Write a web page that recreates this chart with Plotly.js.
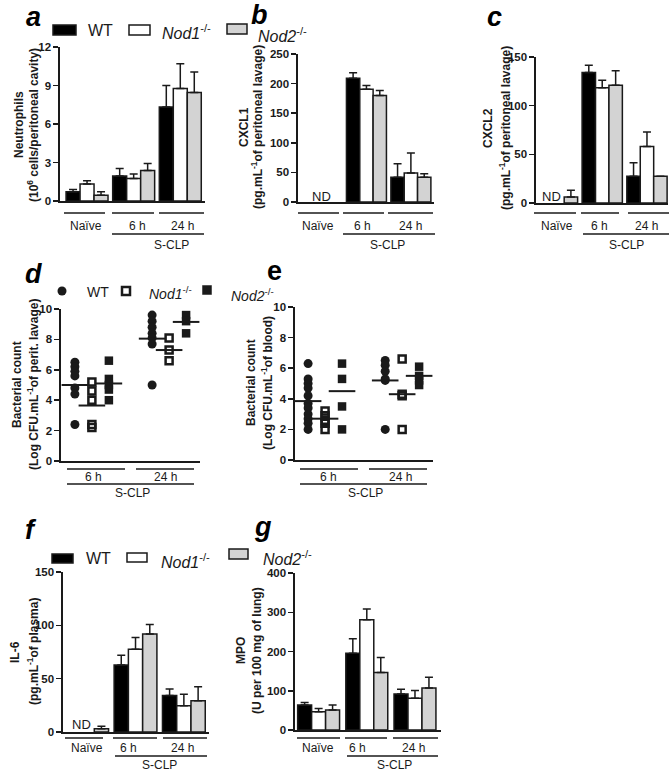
<!DOCTYPE html>
<html><head><meta charset="utf-8">
<script src="https://cdn.plot.ly/plotly-3.0.1.min.js"></script>
<style>html,body{margin:0;padding:0;background:#fff}</style>
</head><body><div id="chart" style="width:672px;height:771px"></div>
<script>
// ---------- DATA ----------
const groups = ["Naïve", "6 h", "24 h"];
const sclpGroups = ["6 h", "24 h"];
const genotypes = ["WT", "Nod1-/-", "Nod2-/-"];

// a: Neutrophils (10^6 cells/peritoneal cavity), mean and upper SEM
const neutroWT = [0.73, 1.94, 7.33],  neutroWTerr = [0.17, 0.60, 1.67];
const neutroNod1 = [1.32, 1.76, 8.76], neutroNod1err = [0.26, 0.34, 1.94];
const neutroNod2 = [0.44, 2.38, 8.45], neutroNod2err = [0.29, 0.55, 1.60];

// b: CXCL1 (pg/mL of peritoneal lavage); Naïve = ND
const cxcl1WT = [null, 209, 42],     cxcl1WTerr = [null, 9.5, 22.6];
const cxcl1Nod1 = [null, 190.5, 49], cxcl1Nod1err = [null, 6.1, 33.6];
const cxcl1Nod2 = [null, 180, 42],   cxcl1Nod2err = [null, 8.2, 5.8];

// c: CXCL2 (pg/mL of peritoneal lavage)
const cxcl2WT = [null, 134, 27.4],   cxcl2WTerr = [null, 7.4, 14];
const cxcl2Nod1 = [null, 118.5, 58], cxcl2Nod1err = [null, 7.5, 15];
const cxcl2Nod2 = [6.2, 121, 27.4],  cxcl2Nod2err = [6.8, 15, 0];

// d: Bacterial count, peritoneal lavage (log CFU/mL)
const lavWT6 = [6.5, 6.2, 5.9, 5.6, 4.8, 4.4, 2.4];
const lavWT24 = [9.6, 9.2, 8.8, 8.4, 8.1, 7.7, 5.0];
const lavNod1_6 = [5.2, 4.6, 4.0, 2.4, 2.2];
const lavNod1_24 = [8.1, 7.3, 6.6];
const lavNod2_6 = [6.6, 5.4, 5.0, 4.7, 4.0];
const lavNod2_24 = [9.6, 9.2, 8.4];
const lavMeanWT = [5.0, 8.05], lavMeanNod1 = [3.65, 7.3], lavMeanNod2 = [5.1, 9.15];

// e: Bacterial count, blood (log CFU/mL)
const bloodWT6 = [6.3, 5.3, 5.0, 4.7, 4.2, 3.7, 3.4, 3.0, 2.7, 2.4, 2.0];
const bloodWT24 = [6.5, 6.2, 5.8, 5.3, 5.2, 2.0];
const bloodNod1_6 = [3.2, 2.9, 2.6, 2.4, 2.0];
const bloodNod1_24 = [6.6, 4.3, 4.2, 2.0];
const bloodNod2_6 = [6.3, 5.3, 3.5, 2.0];
const bloodNod2_24 = [6.1, 5.5, 5.2, 4.9];
const bloodMeanWT = [3.85, 5.2], bloodMeanNod1 = [2.7, 4.3], bloodMeanNod2 = [4.5, 5.5];

// f: IL-6 (pg/mL of plasma)
const il6WT = [null, 62.8, 34.2],  il6WTerr = [null, 9.1, 6.0];
const il6Nod1 = [null, 77.5, 24.5], il6Nod1err = [null, 11, 11];
const il6Nod2 = [3.1, 91.9, 29.2], il6Nod2err = [2.2, 8.8, 13.2];

// g: MPO (U per 100 mg of lung)
const mpoWT = [63.8, 195.7, 91.9],  mpoWTerr = [6, 36.6, 11.9];
const mpoNod1 = [46.8, 280.9, 80.9], mpoNod1err = [7.7, 27.1, 19.5];
const mpoNod2 = [51, 146.4, 107.2], mpoNod2err = [12.8, 38.3, 27.3];

// ---------- STYLE / LAYOUT ----------
const W = 672, H = 771;
const FONT = "Liberation Sans, Arial, Helvetica, sans-serif";
const INK = "#1a1a1a";
const fills = ["#000000", "#ffffff", "#d3d3d3"];
const px = x => x / W, py = y => 1 - y / H;

const traces = [];
function addBars(xa, ya, vals, errs, w) {
  vals.forEach((v, i) => {
    traces.push({
      type: "bar", x: groups, y: v, xaxis: xa, yaxis: ya, name: genotypes[i],
      width: w, offset: (i - 1.5) * w,
      marker: { color: fills[i], line: { color: INK, width: 1.5 } },
      error_y: { type: "data", symmetric: false, array: errs[i], arrayminus: errs[i].map(() => 0),
                 color: INK, thickness: 1.5, width: 4 },
      showlegend: false, hoverinfo: "skip"
    });
  });
}
addBars("x", "y", [neutroWT, neutroNod1, neutroNod2], [neutroWTerr, neutroNod1err, neutroNod2err], 0.30);
addBars("x2", "y2", [cxcl1WT, cxcl1Nod1, cxcl1Nod2], [cxcl1WTerr, cxcl1Nod1err, cxcl1Nod2err], 0.30);
addBars("x3", "y3", [cxcl2WT, cxcl2Nod1, cxcl2Nod2], [cxcl2WTerr, cxcl2Nod1err, cxcl2Nod2err], 0.30);
addBars("x6", "y6", [il6WT, il6Nod1, il6Nod2], [il6WTerr, il6Nod1err, il6Nod2err], 0.295);
addBars("x7", "y7", [mpoWT, mpoNod1, mpoNod2], [mpoWTerr, mpoNod1err, mpoNod2err], 0.29);

const symbols = [
  { symbol: "circle", size: 9, color: INK, line: { width: 0 } },
  { symbol: "square-open", size: 7, color: INK, line: { width: 2.5, color: INK } },
  { symbol: "square", size: 8.5, color: INK, line: { width: 0 } }
];
function addScatter(xa, ya, sets, means) {
  sets.forEach((s, i) => {
    const xs = [], ys = [];
    s.forEach((arr, g) => arr.forEach(v => { xs.push(sclpGroups[g]); ys.push(v); }));
    traces.push({ type: "scatter", mode: "markers", x: xs, y: ys, xaxis: xa, yaxis: ya,
      offsetgroup: genotypes[i], marker: symbols[i], showlegend: false, hoverinfo: "skip", cliponaxis: false });
    traces.push({ type: "scatter", mode: "markers", x: sclpGroups, y: means[i], xaxis: xa, yaxis: ya,
      offsetgroup: genotypes[i], marker: { symbol: "line-ew", size: 19, line: { width: 2, color: INK } },
      showlegend: false, hoverinfo: "skip", cliponaxis: false });
  });
}
addScatter("x4", "y4", [[lavWT6, lavWT24], [lavNod1_6, lavNod1_24], [lavNod2_6, lavNod2_24]],
           [lavMeanWT, lavMeanNod1, lavMeanNod2]);
addScatter("x5", "y5", [[bloodWT6, bloodWT24], [bloodNod1_6, bloodNod1_24], [bloodNod2_6, bloodNod2_24]],
           [bloodMeanWT, bloodMeanNod1, bloodMeanNod2]);

const panels = [
  { k: "", xd: [60, 205], yd: [201, 47], xr: [-0.58, 2.53], yr: [0, 12], tv: [0, 3, 6, 9, 12] },
  { k: "2", xd: [298, 434], yd: [202, 54], xr: [-0.54, 2.52], yr: [0, 250], tv: [0, 50, 100, 150, 200, 250] },
  { k: "3", xd: [536, 668], yd: [203, 57], xr: [-0.48, 2.47], yr: [0, 150], tv: [0, 50, 100, 150] },
  { k: "4", xd: [61, 200], yd: [461, 309], xr: [-0.4, 1.4], yr: [0, 10], tv: [0, 2, 4, 6, 8, 10] },
  { k: "5", xd: [295, 433], yd: [460, 307], xr: [-0.39, 1.4], yr: [0, 10], tv: [0, 2, 4, 6, 8, 10] },
  { k: "6", xd: [63, 209], yd: [732, 572], xr: [-0.5, 2.52], yr: [0, 150], tv: [0, 50, 100, 150] },
  { k: "7", xd: [295, 441], yd: [730, 573], xr: [-0.49, 2.54], yr: [0, 400], tv: [0, 100, 200, 300, 400] }
];

const layout = {
  width: W, height: H, margin: { l: 0, r: 0, t: 0, b: 0 },
  paper_bgcolor: "#fff", plot_bgcolor: "rgba(0,0,0,0)",
  showlegend: false, barmode: "overlay",
  scattermode: "group", scattergap: 0.34,
  font: { family: FONT, color: INK },
  annotations: [], shapes: []
};
panels.forEach(p => {
  layout["xaxis" + p.k] = {
    domain: [px(p.xd[0]), px(p.xd[1])], range: p.xr, type: "category",
    anchor: "y" + p.k, showline: true, linecolor: INK, linewidth: 1.6,
    ticks: "", showticklabels: false, showgrid: false, zeroline: false, fixedrange: true
  };
  layout["yaxis" + p.k] = {
    domain: [py(p.yd[0]), py(p.yd[1])], range: p.yr, anchor: "x" + p.k,
    showline: true, linecolor: INK, linewidth: 1.6, ticks: "outside", ticklen: 5, tickwidth: 1.5,
    tickcolor: INK, tickvals: p.tv, ticktext: p.tv.map(String),
    tickfont: { family: FONT, size: 11.5, color: INK, weight: "bold" },
    showgrid: false, zeroline: false, fixedrange: true
  };
});

function ann(text, x, y, o = {}) {
  layout.annotations.push(Object.assign({
    text, x: px(x), y: py(y), xref: "paper", yref: "paper", showarrow: false,
    xanchor: "center", yanchor: "middle", font: { family: FONT, size: 12, color: INK }
  }, o));
}
function hline(x0, x1, y) {
  layout.shapes.push({ type: "line", xref: "paper", yref: "paper", x0: px(x0), x1: px(x1), y0: py(y), y1: py(y),
    line: { color: INK, width: 1.5 } });
}
function rect(x0, y0, x1, y1, fill, lw = 1.5) {
  layout.shapes.push({ type: "rect", xref: "paper", yref: "paper", x0: px(x0), x1: px(x1), y0: py(y1), y1: py(y0),
    fillcolor: fill, line: { color: INK, width: lw } });
}

// panel letters
const letterFont = (it) => ({ family: FONT, size: 27, color: "#000", weight: "bold", style: it ? "italic" : "normal" });
ann("a", 33, 17, { font: letterFont(true) });
ann("b", 259, 15, { font: letterFont(true) });
ann("c", 494, 17, { font: letterFont(true) });
ann("d", 33, 274, { font: letterFont(true) });
ann("e", 274, 271, { font: letterFont(false) });
ann("f", 31, 530, { font: letterFont(true) });
ann("g", 263, 527, { font: letterFont(true) });

// y-axis titles (two lines)
const tf = { family: FONT, size: 12, color: INK, weight: "bold" };
function ytitle(l1, x1, l2, x2, yc) {
  ann(l1, x1, yc, { textangle: -90, font: tf });
  ann(l2, x2, yc, { textangle: -90, font: tf });
}
ytitle("Neutrophils", 19, "(10<sup>6</sup> cells/peritoneal cavity)", 33, 125);
ytitle("CXCL1", 244, "(pg.mL<sup>-1</sup>of peritoneal lavage)", 257, 127);
ytitle("CXCL2", 488, "(pg.mL<sup>-1</sup>of peritoneal lavage)", 505, 128);
ytitle("Bacterial count", 17, "(Log CFU.mL<sup>-1</sup>of perit. lavage)", 33, 385);
ytitle("Bacterial count", 251, "(Log CFU.mL<sup>-1</sup>of blood)", 267, 383);
ytitle("IL-6", 15, "(pg.mL<sup>-1</sup>of plasma)", 33, 652);
ytitle("MPO", 241, "(U per 100 mg of lung)", 257, 651);

// group underlines and labels
const gl = { family: FONT, size: 12, color: INK };
function groupAxis(lines, labels, scl, y1, yl1, y2, yl2) {
  lines.forEach(l => hline(l[0], l[1], y1));
  labels.forEach((t, i) => ann(t[0], t[1], yl1, { font: gl }));
  hline(scl[0], scl[1], y2);
  ann("S-CLP", scl[2], yl2, { font: gl });
}
groupAxis([[64, 105], [112, 154], [159, 204]], [["Naïve", 86], ["6 h", 137], ["24 h", 182]], [112, 204, 171], 213, 226, 234, 245);
groupAxis([[298, 339], [343, 384], [388, 433]], [["Naïve", 318], ["6 h", 362], ["24 h", 410]], [343, 435, 388], 213, 226, 234, 245);
groupAxis([[534, 576], [581, 619], [628, 669]], [["Naïve", 557], ["6 h", 599], ["24 h", 646]], [583, 669, 626], 213, 226, 234, 245);
groupAxis([[67, 125], [136, 194]], [["6 h", 93], ["24 h", 165]], [67, 194, 132], 469, 477, 484, 493);
groupAxis([[300, 358], [369, 427]], [["6 h", 328], ["24 h", 400]], [300, 427, 365], 469, 477, 484, 493);
groupAxis([[65, 103], [113, 157], [163, 207]], [["Naïve", 87], ["6 h", 128], ["24 h", 183]], [115, 207, 159], 738, 748, 756, 765);
groupAxis([[297, 340], [345, 387], [393, 438]], [["Naïve", 318], ["6 h", 357], ["24 h", 413]], [347, 438, 394], 738, 748, 756, 765);

// ND labels
const ndf = { family: FONT, size: 13, color: INK };
ann("ND", 321, 196, { font: ndf });
ann("ND", 551, 196, { font: ndf });
ann("ND", 81, 724, { font: ndf });

// legends
const lf = { family: FONT, size: 16, color: INK };
function barLegend(b, w, g, tWT, tN1, tN2) {
  rect(b[0], b[1], b[2], b[3], fills[0]);
  rect(w[0], w[1], w[2], w[3], fills[1]);
  rect(g[0], g[1], g[2], g[3], fills[2]);
  ann("WT", tWT[0], tWT[1], { xanchor: "left", font: lf });
  ann("<i>Nod1</i><sup>-/-</sup>", tN1[0], tN1[1], { xanchor: "left", font: lf });
  ann("<i>Nod2</i><sup>-/-</sup>", tN2[0], tN2[1], { xanchor: "left", font: lf });
}
barLegend([53, 25, 76, 35], [129, 25, 150, 35], [227, 24, 247, 34], [86, 31], [160, 32], [256, 35]);
barLegend([52, 554, 73, 563], [127, 553, 147, 562], [229, 549, 248, 559], [84, 558], [159, 561], [261, 558]);

// scatter legend (d)
layout.shapes.push({ type: "circle", xref: "paper", yref: "paper", x0: px(57.5), x1: px(66.5), y0: py(295.5), y1: py(286.5),
  fillcolor: INK, line: { width: 0 } });
rect(122, 287, 130, 295, "#fff", 2.5);
rect(202.5, 285.5, 211.5, 294.5, INK, 0.5);
const lf2 = { family: FONT, size: 14, color: INK };
ann("WT", 85, 292, { xanchor: "left", font: lf2 });
ann("<i>Nod1</i><sup>-/-</sup>", 147, 293, { xanchor: "left", font: lf2 });
ann("<i>Nod2</i><sup>-/-</sup>", 229, 295, { xanchor: "left", font: lf2 });

Plotly.newPlot("chart", traces, layout, { displayModeBar: false, staticPlot: true });
</script>
</body></html>
